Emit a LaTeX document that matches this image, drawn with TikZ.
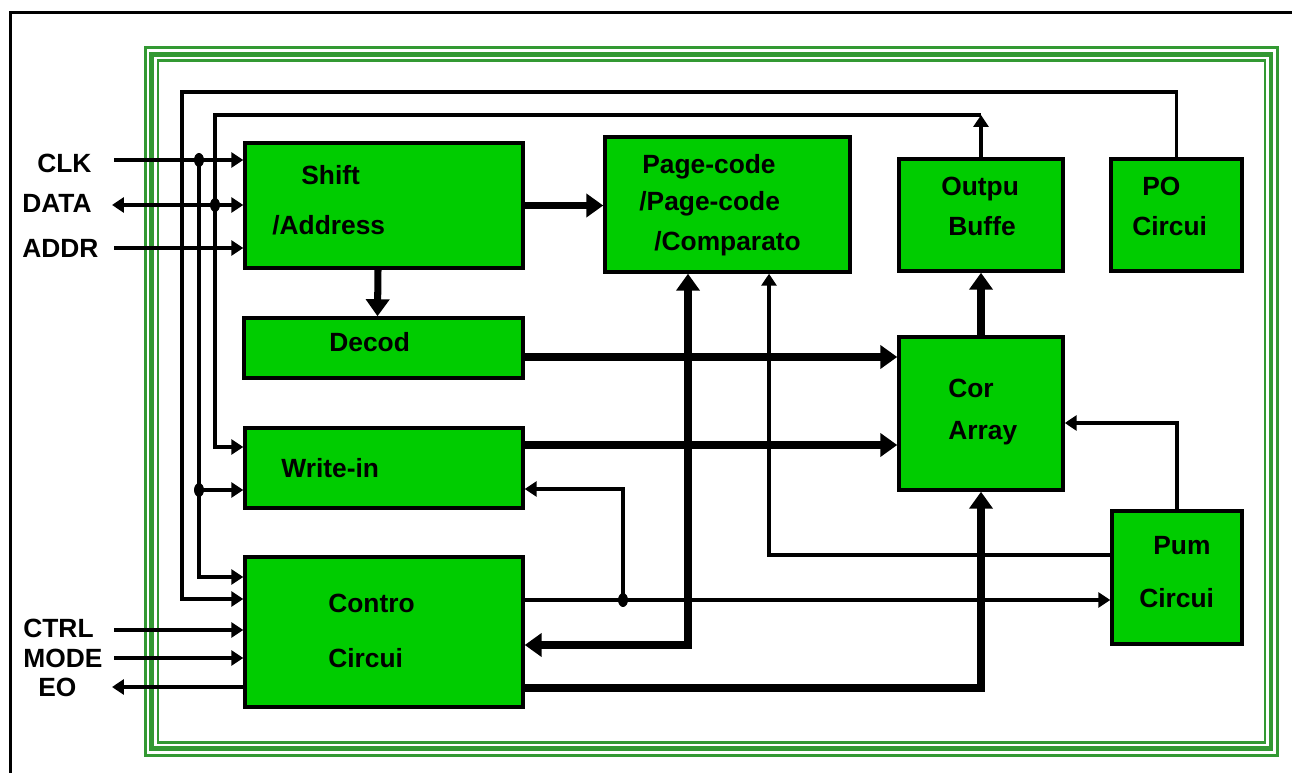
\documentclass[tikz,border=0pt]{standalone}
\usepackage{fontspec}
\setmainfont{Liberation Sans}
\usetikzlibrary{arrows.meta,calc,shapes.geometric}
\definecolor{blkfill}{HTML}{00CC00}
\definecolor{frame}{HTML}{339933}
\tikzset{
  every node/.style={font=\fontsize{15}{18}\selectfont\bfseries},
  blk/.style={draw=black,line width=2pt,fill=blkfill,inner sep=0pt},
  txt/.style={anchor=base west,inner sep=0pt},
  wireln/.style={line width=1.8pt},
  wire/.style={wireln,-{Triangle[length=0.24cm,width=0.3cm]}},
  wireboth/.style={wireln,{Triangle[length=0.24cm,width=0.3cm]}-{Triangle[length=0.24cm,width=0.3cm]}},
  bus/.style={line width=4pt,-{Triangle[length=0.34cm,width=0.46cm]}},
  busboth/.style={line width=4pt,{Triangle[length=0.34cm,width=0.46cm]}-{Triangle[length=0.34cm,width=0.46cm]}},
  jdot/.style={ellipse,fill=black,inner sep=0pt,minimum width=0.2cm,minimum height=0.28cm},
  frm/.style={draw=frame},
}

\begin{document}
\begin{tikzpicture}[x=0.02cm,y=-0.02cm]
  \useasboundingbox (0,0) rectangle (1292,773);
  \draw[line width=1.2pt] (10.5,773) |- (1292,12.5);

  % green frame
  \draw[frm,line width=1.4pt] (145.5,47.5) rectangle (1277.5,755.5);
  \draw[frm,line width=2.8pt] (151.5,54.5) rectangle (1271,748.5);
  \draw[frm,line width=1.4pt] (158,60.5) rectangle (1265,742.5);

  % blocks
  \node[blk,minimum width=5.56cm,minimum height=2.5cm] (shift) at (384,205.5) {};
  \node[blk,minimum width=4.9cm,minimum height=2.7cm] (page) at (727.5,204.5) {};
  \node[blk,minimum width=3.28cm,minimum height=2.24cm] (outbuf) at (981,215) {};
  \node[blk,minimum width=2.62cm,minimum height=2.24cm] (po) at (1176.5,215) {};
  \node[blk,minimum width=5.58cm,minimum height=1.2cm] (decod) at (383.5,348) {};
  \node[blk,minimum width=3.28cm,minimum height=3.06cm] (array) at (981,413.5) {};
  \node[blk,minimum width=5.56cm,minimum height=1.6cm] (write) at (384,468) {};
  \node[blk,minimum width=5.56cm,minimum height=3cm] (ctrl) at (384,632) {};
  \node[blk,minimum width=2.6cm,minimum height=2.66cm] (pump) at (1177,577.5) {};

  \node[txt] (shiftA) at (301,185) {Shift};
  \node[txt] (shiftB) at (272,235) {/Address};
  \node[txt] (pageA) at (642,174) {Page-code};
  \node[txt] (pageB) at (639,211) {/Page-code};
  \node[txt] (pageC) at (654,251) {/Comparato};
  \node[txt] (outA) at (941,196) {Outpu};
  \node[txt] (outB) at (948,236) {Buffe};
  \node[txt] (poA) at (1142,196) {PO};
  \node[txt] (poB) at (1132,236) {Circui};
  \node[txt] (decA) at (329,352) {Decod};
  \node[txt] (arrA) at (948,398) {Cor};
  \node[txt] (arrB) at (948,440) {Array};
  \node[txt] (wrA) at (281,478) {Write-in};
  \node[txt] (ctlA) at (328,612) {Contro};
  \node[txt] (ctlB) at (328,667) {Circui};
  \node[txt] (pmpA) at (1153,555) {Pum};
  \node[txt] (pmpB) at (1139,607) {Circui};

  % pins
  \node[txt] (clk) at (37,173) {CLK};
  \node[txt] (data) at (22,213) {DATA};
  \node[txt] (addr) at (22,258) {ADDR};
  \node[txt] (ctl) at (23,637) {CTRL};
  \node[txt] (mode) at (23,667) {MODE};
  \node[txt] (eo) at (38,696) {EO};
  \coordinate (clkIn) at (114,160);
  \coordinate (dataIn) at (112,205);
  \coordinate (addrIn) at (114,248);
  \coordinate (ctlIn) at (114,630);
  \coordinate (modeIn) at (114,658);
  \coordinate (eoOut) at (112,687);

  % junctions and corners
  \coordinate (clkDot) at (199,160);
  \coordinate (dataDot) at (215,205);
  \coordinate (wrDot) at (199,490);
  \coordinate (pDot) at (623,600);
  \coordinate (poBus) at (182,92);
  \coordinate (obTop) at (981,115);
  \coordinate (pgRet) at (769,555);
  \coordinate (pcBus) at (688,645);
  \coordinate (arrRet) at (1177,423);
  \coordinate (ctlBus) at (981,688);
  \coordinate (wrBack) at (623,489);
  \coordinate (decRow) at (0,357);
  \coordinate (wrRow) at (0,445);

  \draw[wire] (clkIn) -- (clkIn -| shift.west);
  \draw[wireboth] (dataIn) -- (dataIn -| shift.west);
  \draw[wire] (addrIn) -- (addrIn -| shift.west);
  \draw[wire] (ctlIn) -- (ctlIn -| ctrl.west);
  \draw[wire] (modeIn) -- (modeIn -| ctrl.west);
  \draw[wire] (eoOut -| ctrl.west) -- (eoOut);

  % feedback wires
  \draw[wire] (po.north) |- (poBus) |- ($(ctrl.west)+(0,-33)$);
  \draw[wire] (clkDot) |- ($(ctrl.west)+(0,-55)$);
  \draw[wire] (wrDot) -- (wrDot -| write.west);
  \draw[wire] (outbuf.north) -- (obTop);
  \draw[wire] (obTop) -| (dataDot) |- ($(write.west)+(0,-21)$);
  \draw[wire] (pump.west |- pgRet) -| (page.south -| pgRet);
  \draw[wire] (ctrl.east |- pDot) -- (pump.west |- pDot);
  \draw[wire] (pDot) -- (wrBack) -- (write.east |- wrBack);
  \draw[wire] (pump.north) -- (arrRet) -- (array.east |- arrRet);

  % data buses
  \draw[bus] (shift.east) -- (shift.east -| page.west);
  \draw[bus] ($(shift.south)+(-6,0)$) -- ($(decod.north)+(-6,0)$);
  \draw[bus] (decod.east |- decRow) -- (array.west |- decRow);
  \draw[bus] (write.east |- wrRow) -- (array.west |- wrRow);
  \draw[bus] (array.north) -- (outbuf.south);
  \draw[bus] (ctrl.east |- ctlBus) -| (array.south);
  \draw[busboth] (page.south -| pcBus) |- (ctrl.east |- pcBus);

  \node[jdot] (d1) at (clkDot) {};
  \node[jdot] (d2) at (dataDot) {};
  \node[jdot] (d3) at (wrDot) {};
  \node[jdot] (d4) at (pDot) {};
\end{tikzpicture}
\end{document}
